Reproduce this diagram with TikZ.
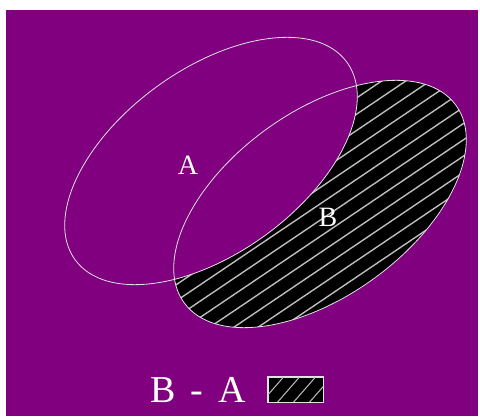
\documentclass[tikz,border=0pt]{standalone}
\usepackage{fontspec}
\setmainfont{Liberation Serif}
\usetikzlibrary{positioning}
\definecolor{Plum}{HTML}{800080}
\definecolor{Hatch}{HTML}{BDBDBD}
\definecolor{Rim}{HTML}{E2E2E2}
\tikzset{
  setline/.style={draw=Rim,line width=.8pt},
  hatchline/.style={draw=Hatch,line width=1.4pt},
  setlab/.style={font=\fontsize{28}{28}\selectfont,text=white,inner sep=0pt},
  keylab/.style={font=\fontsize{38}{38}\selectfont,text=white,inner sep=0pt},
  keybox/.style={draw=Rim,line width=1pt,fill=black,minimum width=55pt,minimum height=25pt,inner sep=0pt}
}

\begin{document}
\begin{tikzpicture}[x=1pt,y=1pt]
    \useasboundingbox (0,0) rectangle (480,416);
    \fill[white] (0,0) rectangle (480,416);
    \fill[Plum] (6,0) rectangle (478,406);
    \coordinate (ca) at (211,255);
    \coordinate (cb) at (320,212);
    % B - A, black with hatching
    \begin{scope}
      \clip[rotate around={36:(cb)}] (cb) ellipse (168 and 92);
      \fill[black] (100,40) rectangle (480,380);
      \foreach \k in {-20,...,20}
        \draw[hatchline,rotate around={34:(cb)}] (cb) ++(-260,\k*13.5) -- ++(520,0);
      \fill[Plum,rotate around={36:(ca)}] (ca) ellipse (168 and 92);
    \end{scope}
    \draw[setline,rotate around={36:(ca)}] (ca) ellipse (168 and 92);
    \draw[setline,rotate around={36:(cb)}] (cb) ellipse (168 and 92);
    \node[setlab] (la) at (188,251) {A};
    \node[setlab] (lb) at (328,199) {B};
    % key
    \node[keylab] (key) at (198,26) {B\hspace{.4em}-\hspace{.4em}A};
    \node[keybox] (box) at (295.5,26.5) {};
    \begin{scope}
      \clip (box.south west) rectangle (box.north east);
      \foreach \k in {-2,...,3}
        \draw[hatchline,line width=1pt] (box.south) ++(\k*16-20,-2) -- ++(28,32);
    \end{scope}
    \draw[setline,line width=1pt] (box.south west) rectangle (box.north east);
  \end{tikzpicture}
\end{document}
